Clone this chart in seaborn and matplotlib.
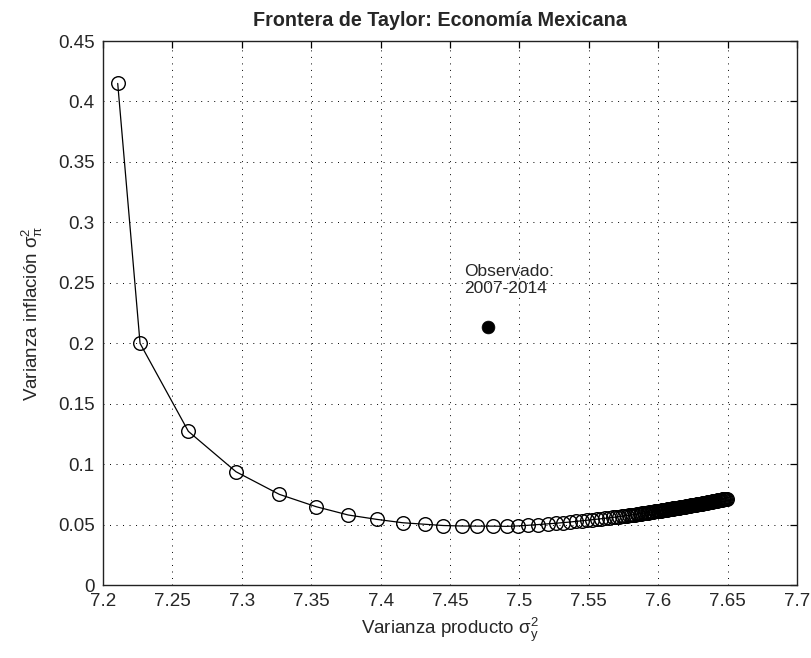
import matplotlib
matplotlib.use("Agg")
import matplotlib.pyplot as plt
import seaborn as sns
import pandas as pd
from matplotlib.ticker import FixedLocator, FormatStrFormatter

# Taylor frontier: output variance vs inflation variance for each policy weight
var_output = [
    7.2106, 7.2267, 7.2615, 7.2958, 7.3270, 7.3535, 7.3767, 7.3972, 7.4159, 7.4320,
    7.4452, 7.4584, 7.4697, 7.4812, 7.4908, 7.4992, 7.5064, 7.5136, 7.5204, 7.5264,
    7.5316, 7.5365, 7.5408, 7.5449, 7.5489, 7.5525, 7.5557, 7.5588, 7.5618, 7.5646,
    7.5672, 7.5696, 7.5718, 7.5738, 7.5757, 7.5774, 7.5790, 7.5805, 7.5819, 7.5832,
    7.5844, 7.5856, 7.5866, 7.5876, 7.5886, 7.5896, 7.5906, 7.5916, 7.5926, 7.5936,
    7.5946, 7.5956, 7.5966, 7.5976, 7.5986, 7.5996,
    7.6002, 7.6008, 7.6014, 7.6020, 7.6026, 7.6032, 7.6038, 7.6044, 7.6050, 7.6056,
    7.6062, 7.6068, 7.6074, 7.6080, 7.6086, 7.6092, 7.6098, 7.6104, 7.6110, 7.6116,
    7.6122, 7.6128, 7.6134, 7.6140, 7.6146, 7.6152, 7.6158, 7.6164, 7.6170, 7.6176,
    7.6182, 7.6188, 7.6194, 7.6200, 7.6206, 7.6212, 7.6218, 7.6224, 7.6230, 7.6236,
    7.6242, 7.6248, 7.6254, 7.6260, 7.6266, 7.6272, 7.6278, 7.6284, 7.6290, 7.6296,
    7.6302, 7.6308, 7.6314, 7.6320, 7.6326, 7.6332, 7.6338, 7.6344, 7.6350, 7.6356,
    7.6362, 7.6368, 7.6374, 7.6380, 7.6386, 7.6392, 7.6398, 7.6404, 7.6410, 7.6416,
    7.6422, 7.6428, 7.6434, 7.6440, 7.6446, 7.6452, 7.6458, 7.6464, 7.6470, 7.6476,
    7.6482, 7.6488, 7.6494,
]
var_inflation = [
    0.4149, 0.1999, 0.1271, 0.0937, 0.0750, 0.0648, 0.0579, 0.0543, 0.0515, 0.0502,
    0.0492, 0.0488, 0.0487, 0.0487, 0.0485, 0.0489, 0.0494, 0.0500, 0.0506, 0.0511,
    0.0516, 0.0521, 0.0526, 0.0530, 0.0535, 0.0540, 0.0544, 0.0548, 0.0552, 0.0556,
    0.0559, 0.0563, 0.0566, 0.0569, 0.0572, 0.0574, 0.0577, 0.0579, 0.0581, 0.0583,
    0.0585, 0.0587, 0.0589, 0.0591, 0.0592, 0.0594, 0.0596, 0.0597, 0.0599, 0.0601,
    0.0602, 0.0604, 0.0606, 0.0608, 0.0609, 0.0611,
    0.0612, 0.0613, 0.0615, 0.0616, 0.0617, 0.0618, 0.0619, 0.0620, 0.0621, 0.0622,
    0.0623, 0.0625, 0.0626, 0.0627, 0.0628, 0.0629, 0.0630, 0.0631, 0.0633, 0.0634,
    0.0635, 0.0636, 0.0637, 0.0638, 0.0640, 0.0641, 0.0642, 0.0643, 0.0644, 0.0645,
    0.0647, 0.0648, 0.0649, 0.0650, 0.0652, 0.0653, 0.0654, 0.0655, 0.0656, 0.0658,
    0.0659, 0.0660, 0.0661, 0.0663, 0.0664, 0.0665, 0.0667, 0.0668, 0.0669, 0.0670,
    0.0672, 0.0673, 0.0674, 0.0676, 0.0677, 0.0678, 0.0679, 0.0681, 0.0682, 0.0683,
    0.0685, 0.0686, 0.0687, 0.0689, 0.0690, 0.0691, 0.0693, 0.0694, 0.0696, 0.0697,
    0.0698, 0.0700, 0.0701, 0.0702, 0.0704, 0.0705, 0.0707, 0.0708, 0.0709, 0.0711,
    0.0712, 0.0714, 0.0715,
]

# Observed outcome 2007-2014
obs_output = [7.4772]
obs_inflation = [0.2136]
obs_label = "Observado:\n2007-2014"

x_ticks = [7.2, 7.25, 7.3, 7.35, 7.4, 7.45, 7.5, 7.55, 7.6, 7.65, 7.7]
y_ticks = [0, 0.05, 0.1, 0.15, 0.2, 0.25, 0.3, 0.35, 0.4, 0.45]

sns.set_style("white")
plt.rcParams["font.family"] = ["Liberation Sans", "DejaVu Sans"]
plt.rcParams["mathtext.default"] = "regular"

frontier = pd.DataFrame({"vy": var_output, "vpi": var_inflation})
observed = pd.DataFrame({"vy": obs_output, "vpi": obs_inflation})

fig = plt.figure(figsize=(8.11, 6.58), dpi=100)
ax = fig.add_axes([103 / 811, 1 - 585 / 658, (797 - 103) / 811, (585 - 41) / 658])

sns.lineplot(
    data=frontier, x="vy", y="vpi", sort=False, ax=ax,
    color="black", linewidth=0.9, marker="o", markersize=9.8,
    markerfacecolor="none", markeredgecolor="black", markeredgewidth=1.0,
)
sns.scatterplot(
    data=observed, x="vy", y="vpi", ax=ax, color="black",
    s=85, edgecolor="black", linewidth=0.5, zorder=4,
)
ax.text(7.4605, 0.2525, obs_label, ha="left", va="center", fontsize=12.5)

ax.set_xlim(7.2, 7.7)
ax.set_ylim(0, 0.45)
ax.xaxis.set_major_locator(FixedLocator(x_ticks))
ax.yaxis.set_major_locator(FixedLocator(y_ticks))
ax.xaxis.set_major_formatter(FormatStrFormatter("%g"))
ax.yaxis.set_major_formatter(FormatStrFormatter("%g"))

ax.grid(True, color="black", linestyle=(0, (1, 5.7)), linewidth=0.7)
ax.set_axisbelow(True)
ax.tick_params(direction="in", length=5, width=0.9, color="black",
               top=True, right=True, labelsize=13.5, pad=6)
for side in ax.spines.values():
    side.set_visible(True)
    side.set_color("#222222")
    side.set_linewidth(1.0)

ax.set_xlabel("Varianza producto $σ_y^2$", fontsize=13.5, labelpad=4)
ax.set_ylabel("Varianza inflación $σ_π^2$", fontsize=13.5, labelpad=9)
ax.set_title("Frontera de Taylor: Economía Mexicana", fontsize=14.2,
             fontweight="bold", pad=11, x=0.485)

fig.savefig("out.png", dpi=100, facecolor="white")
